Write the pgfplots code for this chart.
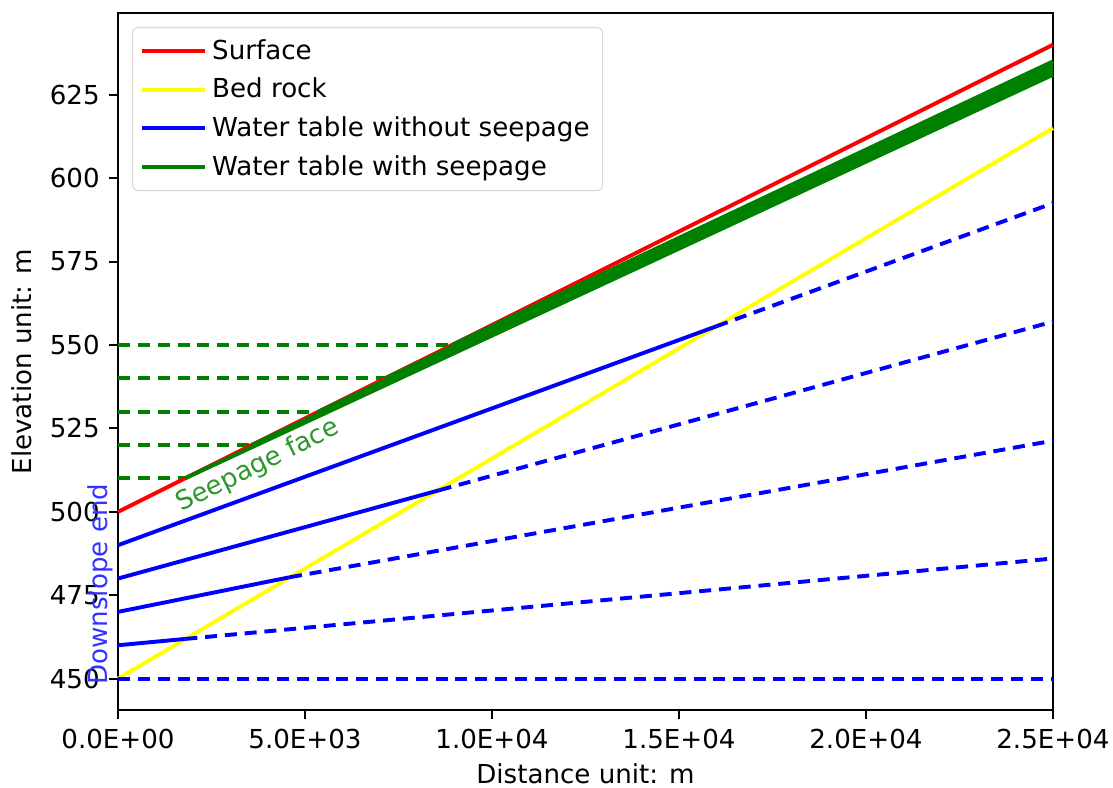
\documentclass[border=0pt]{standalone}
\usepackage{fontspec}
\setmainfont{DejaVu Sans}
\usepackage{pgfplots}
\pgfplotsset{compat=1.18}
\usetikzlibrary{calc}
\definecolor{mplred}{HTML}{FF0000}
\definecolor{mplyellow}{HTML}{FFFF00}
\definecolor{mplblue}{HTML}{0000FF}
\definecolor{mplgreen}{HTML}{008000}
\definecolor{seeptxt}{HTML}{2E962E}
\definecolor{downtxt}{HTML}{3333FF}
\tikzset{
  wl/.style={line width=1.5pt},
  dashd/.style={wl,dash pattern=on 4.6pt off 3pt},
}

\begin{document}
\begin{tikzpicture}[font=\fontsize{10pt}{12pt}\selectfont]
\begin{axis}[name=ax,
  width=358pt, height=267pt, scale only axis,
  xmin=0, xmax=25000, ymin=440.5, ymax=649.5,
  xtick={0,5000,10000,15000,20000,25000},
  xticklabels={0.0E+00,5.0E+03,1.0E+04,1.5E+04,2.0E+04,2.5E+04},
  ytick={450,475,...,625},
  scaled x ticks=false,
  yticklabel style={/pgf/number format/assume math mode=true},
  tick align=outside, major tick length=3.5pt,
  tick style={black,line width=0.8pt},
  axis line style={line width=0.8pt},
  xtick pos=left, ytick pos=left,
  xlabel={Distance unit: m}, ylabel={Elevation unit: m},
  xlabel style={yshift=1pt},
  clip=false,
  legend style={at={(0.015,0.98)}, anchor=north west, draw=black!15,
    rounded corners=2pt, row sep=1.7pt, inner xsep=3pt, inner ysep=2.5pt,
    font=\fontsize{10pt}{12pt}\selectfont},
  legend cell align=left,
  legend image code/.code={\draw[#1] (0pt,0pt) -- (20pt,0pt); \path (0pt,0pt) -- (24pt,0pt);},
]
\addlegendimage{mplred,wl}\addlegendentry{Surface}
\addlegendimage{mplyellow,wl}\addlegendentry{Bed rock}
\addlegendimage{mplblue,wl}\addlegendentry{Water table without seepage}
\addlegendimage{mplgreen,wl}\addlegendentry{Water table with seepage}

% seepage levels (horizontal dashed)
\addplot[mplgreen,dashd,forget plot] coordinates {(0,510) (1786,510)};
\addplot[mplgreen,dashd,forget plot] coordinates {(0,520) (3571,520)};
\addplot[mplgreen,dashd,forget plot] coordinates {(0,530) (5357,530)};
\addplot[mplgreen,dashd,forget plot] coordinates {(0,540) (7143,540)};
\addplot[mplgreen,dashd,forget plot] coordinates {(0,550) (8929,550)};

% surface and bed rock
\addplot[mplred,wl,forget plot] coordinates {(0,500) (25000,640)};
\addplot[mplyellow,wl,forget plot] coordinates {(0,450) (25000,615)};

% water table without seepage: solid above bed rock, dashed beyond
\addplot[mplblue,wl,forget plot] coordinates {(0,490) (16000,555.6)};
\addplot[mplblue,dashd,forget plot] coordinates {(16000,555.6) (25000,592.5)};
\addplot[mplblue,wl,forget plot] coordinates {(0,480) (8600,506.5)};
\addplot[mplblue,dashd,forget plot] coordinates {(8600,506.5) (25000,557)};
\addplot[mplblue,wl,forget plot] coordinates {(0,470) (4600,480.4)};
\addplot[mplblue,dashd,forget plot] coordinates {(4600,480.4) (25000,521.3)};
\addplot[mplblue,wl,forget plot] coordinates {(0,460) (1800,461.9)};
\addplot[mplblue,dashd,forget plot] coordinates {(1800,461.9) (25000,486)};
\addplot[mplblue,dashd,forget plot] coordinates {(0,450) (25000,450)};

% water table with seepage
\addplot[mplgreen,wl,forget plot] coordinates {(1786,510) (25000,631)};
\addplot[mplgreen,wl,forget plot] coordinates {(3571,520) (25000,632)};
\addplot[mplgreen,wl,forget plot] coordinates {(5357,530) (25000,633)};
\addplot[mplgreen,wl,forget plot] coordinates {(7143,540) (25000,634)};
\addplot[mplgreen,wl,forget plot] coordinates {(8929,550) (25000,635)};

\node[text=seeptxt,rotate=26.5] at (axis cs:3743,513.8) {Seepage face};
\node[text=downtxt,rotate=90] at (axis cs:-481,478.3) {Downslope end};
\end{axis}
\pgfresetboundingbox
\path[use as bounding box] ($(ax.south west)+(-45.2pt,-29.5pt)$) rectangle ($(ax.north east)+(23pt,5pt)$);
\end{tikzpicture}
\end{document}
